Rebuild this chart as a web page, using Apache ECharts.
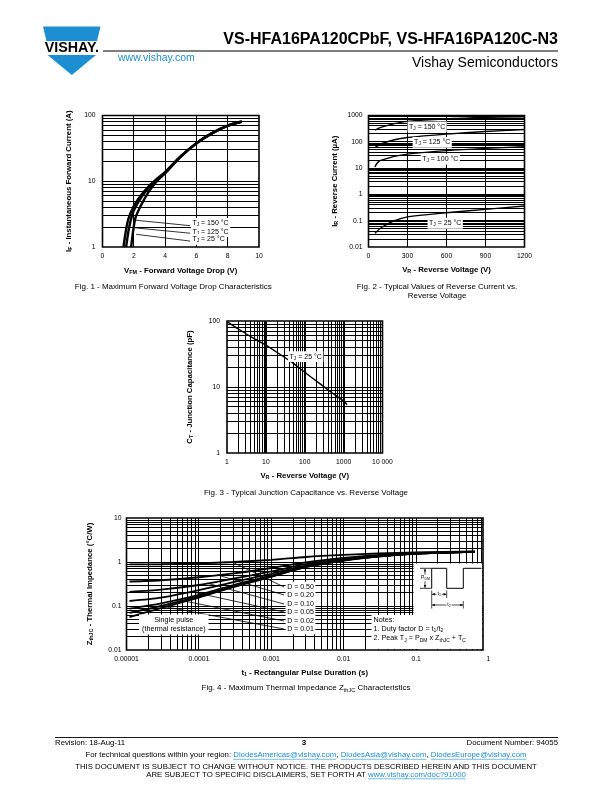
<!DOCTYPE html>
<html><head><meta charset="utf-8"><title>VS-HFA16PA120C</title>
<script src="https://cdn.jsdelivr.net/npm/echarts@6.0.0/dist/echarts.min.js"></script>
<style>html,body{margin:0;padding:0;background:#fff;}#chart{width:612px;height:792px;}</style>
</head><body><div id="chart"></div>
<script>
const FONT = '"Liberation Sans", Arial, Helvetica, sans-serif';
const BLUE = '#1c8fd3';

// ---------------- Fig. 1 data ----------------
const fig1V150 = [1.34, 1.5, 1.66, 2.0, 2.5, 3.0, 3.5, 4.0, 5.0, 6.0, 7.0, 8.0, 8.9];
const fig1I150 = [1, 1.8, 2.7, 4.2, 6.3, 8.6, 11, 13.8, 24, 38, 54, 70, 81];
const fig1V125 = [1.51, 1.66, 1.83, 2.0, 2.5, 3.0, 3.5, 4.0, 5.0, 6.0, 7.0, 8.0, 8.9];
const fig1I125 = [1, 1.75, 2.7, 3.6, 5.8, 8.2, 10.8, 13.5, 23.8, 38, 54, 70, 81];
const fig1V25 = [1.83, 1.95, 2.09, 2.3, 2.5, 3.0, 3.5, 4.0, 5.0, 6.0, 7.0, 8.0, 8.9];
const fig1I25 = [1, 1.7, 2.7, 3.6, 4.5, 7.2, 10.2, 13.2, 23.5, 37.5, 53.5, 69.5, 80];
const fig1XTicks = ['0', '2', '4', '6', '8', '10'];
const fig1YTicks = ['1', '10', '100'];
const fig1Temps = ['150 °C', '125 °C', '25 °C'];

// ---------------- Fig. 2 data ----------------
const fig2V = [50, 100, 200, 300, 600, 900, 1200];
const fig2I150 = [280, 360, 490, 600, 750, 850, 900];
const fig2I125 = [60, 85, 120, 145, 195, 245, 295];
const fig2V100 = [50, 60, 80, 100, 200, 300, 600, 900, 1200];
const fig2I100 = [11, 14, 18, 20, 28, 34, 46, 56, 65];
const fig2I25 = [0.033, 0.055, 0.1, 0.14, 0.2, 0.27, 0.36];
const fig2XTicks = ['0', '300', '600', '900', '1200'];
const fig2YTicks = ['0.01', '0.1', '1', '10', '100', '1000'];
const fig2Temps = ['150 °C', '125 °C', '100 °C', '25 °C'];

// ---------------- Fig. 3 data ----------------
const fig3V = [1, 2, 5, 10, 20, 50, 100, 200, 500, 1000, 1230];
const fig3C = [98, 75, 54, 43, 33, 23, 16.7, 12.3, 8.2, 6.1, 5.4];
const fig3XTicks = ['1', '10', '100', '1000', '10 000'];
const fig3YTicks = ['1', '10', '100'];

// ---------------- Fig. 4 data ----------------
const fig4T = [1.1e-5, 3e-5, 1e-4, 3e-4, 1e-3, 3e-3, 1e-2, 3e-2, 0.1, 0.65];
const fig4Single = [0.056, 0.09, 0.155, 0.27, 0.46, 0.76, 1.08, 1.33, 1.54, 1.7];
const fig4D001 = [0.07, 0.1, 0.165, 0.28, 0.47, 0.77, 1.09, 1.34, 1.55, 1.7];
const fig4D002 = [0.087, 0.115, 0.18, 0.3, 0.49, 0.79, 1.1, 1.35, 1.55, 1.7];
const fig4D005 = [0.13, 0.155, 0.23, 0.35, 0.54, 0.83, 1.13, 1.37, 1.56, 1.7];
const fig4D010 = [0.21, 0.235, 0.3, 0.42, 0.61, 0.89, 1.17, 1.4, 1.57, 1.71];
const fig4D020 = [0.36, 0.385, 0.45, 0.55, 0.73, 0.98, 1.24, 1.44, 1.6, 1.72];
const fig4D050 = [0.88, 0.89, 0.93, 1.0, 1.12, 1.3, 1.45, 1.56, 1.65, 1.74];
const fig4XTicks = ['0.00001', '0.0001', '0.001', '0.01', '0.1', '1'];
const fig4YTicks = ['0.01', '0.1', '1', '10'];
const fig4DLabels = ['D = 0.50', 'D = 0.20', 'D = 0.10', 'D = 0.05', 'D = 0.02', 'D = 0.01'];

// ---------------- annotation anchors (data space) ----------------
const ANNOT = {
  f1Label: { x: 5.65, y: [2.29, 1.71, 1.31] },
  f1Lead: [[[1.94, 2.58], [5.6, 2.11]], [[1.94, 1.97], [5.6, 1.62]], [[2.15, 1.56], [5.6, 1.23]]],
  f2Label: [[451, 370], [490, 95], [552, 22], [590, 0.08]],
  f3Label: [106, 28.9],
  f4Label: { x: 1.58e-3, y: [0.27, 0.178, 0.111, 0.073, 0.0457, 0.030] },
  f4LeadEndX: 1.5e-3,
  f4LeadStart: [[2.9e-4, 1.0], [1.8e-4, 0.51], [1.3e-4, 0.33], [8e-5, 0.21], [5e-5, 0.14], [3e-5, 0.1]],
  f4Single: [4.5e-5, 0.038]
};

// ---------------- helpers ----------------
const pairs = (xs, ys) => xs.map((x, i) => [x, ys[i]]);
const M19 = [1, 2, 3, 4, 5, 6, 7, 8, 9];
function logGrid(e0, e1, lo, hi) {
  const out = [];
  for (let e = e0; e < e1; e++) for (const m of M19) {
    const v = +(m * Math.pow(10, e)).toPrecision(4);
    if (v > lo * 1.0001 && v < hi * 0.9999) out.push(v);
  }
  return out;
}
const logFmt = (labels, minExp) => v => { const i = Math.round(Math.log10(v)) - minExp; return labels[i] !== undefined ? labels[i] : ''; };

const NAME_FS = 7.8, SUB_FS = 5.4;
const RB = {
  b: { fontSize: NAME_FS, fontWeight: 'bold', fontFamily: FONT, color: '#000' },
  s: { fontSize: SUB_FS, fontWeight: 'bold', fontFamily: FONT, color: '#000', padding: [4, 0, 0, 0] }
};
const subR = size => ({ s: { font: (size * 0.7).toFixed(1) + 'px ' + FONT, padding: [size * 0.5, 0, 0, 0] } });

// grid lines: drawn through the axes by a custom series, snapped to pixel centres
function gridSeries(i, xr, yr, vals, vertical, width) {
  return {
    type: 'custom', xAxisIndex: i, yAxisIndex: i, z: 1, silent: true, animation: false, clip: false,
    data: vals.map(v => vertical ? [v, yr[0]] : [xr[0], v]),
    renderItem: function (params, api) {
      const v = api.value(vertical ? 0 : 1);
      const a = api.coord(vertical ? [v, yr[0]] : [xr[0], v]);
      const b = api.coord(vertical ? [v, yr[1]] : [xr[1], v]);
      const off = Math.round(width) % 2 === 1 ? 0.5 : 0;
      let shape;
      if (vertical) { const x = Math.round(a[0] - off) + off; shape = { x1: x, y1: a[1], x2: x, y2: b[1] }; }
      else { const y = Math.round(a[1] - off) + off; shape = { x1: a[0], y1: y, x2: b[0], y2: y }; }
      return { type: 'line', shape: shape, style: { stroke: '#000', lineWidth: width } };
    }
  };
}
function curve(i, xs, ys, w, smooth) {
  return { type: 'line', xAxisIndex: i, yAxisIndex: i, data: pairs(xs, ys), showSymbol: false, symbol: 'none',
    smooth: smooth === undefined ? 0.3 : smooth, lineStyle: { color: '#000', width: w }, z: 6, silent: true, animation: false };
}
function segment(i, a, b, w) {
  return { type: 'line', xAxisIndex: i, yAxisIndex: i, data: [a, b], showSymbol: false, symbol: 'none',
    lineStyle: { color: '#000', width: w }, z: 5, silent: true, animation: false };
}
// text annotations positioned through the axes (custom series)
function notes(i, items, align, size, pad) {
  return {
    type: 'custom', xAxisIndex: i, yAxisIndex: i, z: 20, silent: true, animation: false, clip: false,
    data: items.map(it => it.v),
    renderItem: function (params, api) {
      const p = api.coord([api.value(0), api.value(1)]);
      const it = items[params.dataIndex];
      return {
        type: 'text', x: p[0], y: p[1], z2: 100,
        style: { text: it.t, fill: '#000', font: size + 'px ' + FONT, rich: subR(size),
          align: align, verticalAlign: 'middle', backgroundColor: '#fff', padding: pad || [1, 1.5], lineHeight: size + 1.8 }
      };
    }
  };
}
const tj = t => 'T{s|J} = ' + t;

function axisBase(gi, extra) {
  return Object.assign({
    gridIndex: gi, axisLine: { show: false }, axisTick: { show: false }, splitLine: { show: false },
    minorTick: { show: false }, minorSplitLine: { show: false },
    nameLocation: 'middle', nameTextStyle: { rich: RB }
  }, extra);
}
const lab = (fmt, margin) => ({ color: '#000', fontFamily: FONT, fontSize: 6.8, margin: margin || 6, formatter: fmt });

// ---------------- grids ----------------
const gridRects = [
  { left: 102.5, top: 115.5, width: 156.5, height: 131.5 },
  { left: 368.5, top: 115.5, width: 156, height: 131.5 },
  { left: 227, top: 321, width: 155.5, height: 132 },
  { left: 126.5, top: 518, width: 356.5, height: 132 },
  { left: 126.5, top: 518, width: 362, height: 132 }
];
const grid = gridRects.map((g, i) => Object.assign({
  show: i < 4, borderColor: '#000', borderWidth: 1.6, backgroundColor: 'rgba(0,0,0,0)',
  containLabel: false, outerBoundsMode: 'none'
}, g));

const xAxis = [
  axisBase(0, { type: 'value', min: 0, max: 10, interval: 2, name: '{b|V}{s|FM}{b| - Forward Voltage Drop (V)}', nameGap: 19,
    axisLabel: lab(v => fig1XTicks[Math.round(v / 2)]) }),
  axisBase(1, { type: 'value', min: 0, max: 1200, interval: 300, name: '{b|V}{s|R}{b| - Reverse Voltage (V)}', nameGap: 18,
    axisLabel: lab(v => fig2XTicks[Math.round(v / 300)]) }),
  axisBase(2, { type: 'log', logBase: 10, min: 1, max: 10000, name: '{b|V}{s|R}{b| - Reverse Voltage (V)}', nameGap: 18,
    axisLabel: lab(logFmt(fig3XTicks, 0)) }),
  axisBase(3, { type: 'log', logBase: 10, min: 1e-5, max: 0.84, name: '{b|t}{s|1}{b| - Rectangular Pulse Duration (s)}', nameGap: 18,
    axisLabel: { show: false } }),
  axisBase(4, { type: 'log', logBase: 10, min: 1e-5, max: 1, axisLabel: lab(logFmt(fig4XTicks, -5)) })
];
const yAxis = [
  axisBase(0, { type: 'log', logBase: 10, min: 1, max: 100, name: '{b|I}{s|F}{b| - Instantaneous Forward Current (A)}', nameGap: 29,
    axisLabel: lab(logFmt(fig1YTicks, 0), 7) }),
  axisBase(1, { type: 'log', logBase: 10, min: 0.01, max: 1000, name: '{b|I}{s|R}{b| - Reverse Current (µA)}', nameGap: 29,
    axisLabel: lab(logFmt(fig2YTicks, -2), 6) }),
  axisBase(2, { type: 'log', logBase: 10, min: 1, max: 100, name: '{b|C}{s|T}{b| - Junction Capacitance (pF)}', nameGap: 32.5,
    axisLabel: lab(logFmt(fig3YTicks, 0), 7) }),
  axisBase(3, { type: 'log', logBase: 10, min: 0.01, max: 10, name: '{b|Z}{s|thJC}{b| - Thermal Impedance (°C/W)}', nameGap: 32,
    axisLabel: lab(logFmt(fig4YTicks, -2), 5) }),
  { gridIndex: 4, type: 'value', show: false, min: 0, max: 1 }
];

// ---------------- series ----------------
const series = [];
// Fig 1
series.push(gridSeries(0, [0, 10], [1, 100], [2, 4, 6, 8], true, 1));
series.push(gridSeries(0, [0, 10], [1, 100], logGrid(0, 2, 1, 100), false, 1));
series.push(curve(0, fig1V150, fig1I150, 2.4));
series.push(curve(0, fig1V125, fig1I125, 2.4));
series.push(curve(0, fig1V25, fig1I25, 2.4));
ANNOT.f1Lead.forEach(l => series.push(segment(0, l[0], l[1], 0.8)));
series.push(notes(0, fig1Temps.map((t, k) => ({ v: [ANNOT.f1Label.x, ANNOT.f1Label.y[k]], t: tj(t) })), 'left', 7));
// Fig 2
series.push(gridSeries(1, [0, 1200], [0.01, 1000], [300, 600, 900], true, 1));
series.push(gridSeries(1, [0, 1200], [0.01, 1000], logGrid(-2, 3, 0.01, 1000), false, 1));
series.push(curve(1, fig2V, fig2I150, 1.4));
series.push(curve(1, fig2V, fig2I125, 1.4));
series.push(curve(1, fig2V100, fig2I100, 1.4));
series.push(curve(1, fig2V, fig2I25, 1.4));
series.push(notes(1, fig2Temps.map((t, k) => ({ v: ANNOT.f2Label[k], t: tj(t) })), 'center', 7));
// Fig 3
const fig3Dec = [10, 100, 1000];
series.push(gridSeries(2, [1, 10000], [1, 100], logGrid(0, 4, 1, 10000).filter(v => fig3Dec.indexOf(v) < 0), true, 1));
series.push(gridSeries(2, [1, 10000], [1, 100], fig3Dec, true, 2));
series.push(gridSeries(2, [1, 10000], [1, 100], logGrid(0, 2, 1, 100), false, 1));
series.push(curve(2, fig3V, fig3C, 1.4, 0.2));
series.push(notes(2, [{ v: ANNOT.f3Label, t: tj('25 °C') }], 'center', 7));
// Fig 4
series.push(gridSeries(3, [1e-5, 0.84], [0.01, 10], logGrid(-5, 0, 1e-5, 0.84), true, 1));
series.push(gridSeries(3, [1e-5, 0.84], [0.01, 10], logGrid(-2, 1, 0.01, 10), false, 1));
[fig4Single, fig4D001, fig4D002, fig4D005, fig4D010, fig4D020, fig4D050].forEach(arr => series.push(curve(3, fig4T, arr, 1.8, 0.25)));
fig4DLabels.forEach((t, k) => series.push(segment(3, ANNOT.f4LeadStart[k], [ANNOT.f4LeadEndX, ANNOT.f4Label.y[k]], 0.8)));
series.push(notes(3, fig4DLabels.map((t, k) => ({ v: [ANNOT.f4Label.x, ANNOT.f4Label.y[k]], t: t })), 'left', 7));
series.push(notes(3, [{ v: ANNOT.f4Single, t: 'Single pulse\n(thermal resistance)' }], 'center', 7.2, [1, 3]));

// ---------------- graphics ----------------
const g = [];
function T(x, y, str, o) {
  o = o || {};
  const font = (o.bold ? 'bold ' : '') + (o.size || 7) + 'px ' + FONT;
  const st = { text: str, fill: o.fill || '#000', font: font, align: o.align || 'left', verticalAlign: 'middle',
    textAlign: o.align || 'left', textVerticalAlign: 'middle' };
  if (o.rich) st.rich = o.rich;
  if (o.bg) { st.backgroundColor = o.bg; st.padding = o.pad || [0, 1]; }
  return { type: 'text', x: x, y: y, z: o.z || 100, silent: true, style: st };
}
function L(x1, y1, x2, y2, w, c, z) {
  return { type: 'line', z: z || 100, silent: true, shape: { x1: x1, y1: y1, x2: x2, y2: y2 }, style: { stroke: c || '#000', lineWidth: w || 1 } };
}
function P(points, fill, z) { return { type: 'polygon', z: z || 100, silent: true, shape: { points: points }, style: { fill: fill || '#000' } }; }

// header
g.push(P([[43, 26.5], [100.5, 26.5], [97, 41], [46.5, 41]], BLUE));
g.push(T(71.8, 48, 'VISHAY.', { bold: true, size: 14.3, align: 'center' }));
g.push(P([[47.5, 55], [96, 55], [71.8, 75]], BLUE));
g.push(T(558, 40, 'VS-HFA16PA120CPbF, VS-HFA16PA120C-N3', { bold: true, size: 16, align: 'right' }));
g.push(L(103, 51, 558, 51, 1));
g.push(T(118, 58.5, 'www.vishay.com', { size: 10.5, fill: BLUE }));
g.push(T(558, 63, 'Vishay Semiconductors', { size: 14, align: 'right' }));

// captions
const CAP = 8;
g.push(T(173.3, 286.5, 'Fig. 1 - Maximum Forward Voltage Drop Characteristics', { size: CAP, align: 'center' }));
g.push(T(437, 287, 'Fig. 2 - Typical Values of Reverse Current vs.', { size: CAP, align: 'center' }));
g.push(T(437, 296, 'Reverse Voltage', { size: CAP, align: 'center' }));
g.push(T(306, 492.7, 'Fig. 3 - Typical Junction Capacitance vs. Reverse Voltage', { size: CAP, align: 'center' }));
g.push(T(306, 688, 'Fig. 4 - Maximum Thermal Impedance Z{s|thJC} Characteristics', { size: CAP, align: 'center', rich: subR(CAP) }));

// Fig 4 inset (schematic)
g.push({ type: 'rect', z: 50, silent: true, shape: { x: 413.5, y: 563.5, width: 68.5, height: 52 }, style: { fill: '#fff' } });
g.push({ type: 'rect', z: 50, silent: true, shape: { x: 371.5, y: 615, width: 110.5, height: 34 }, style: { fill: '#fff' } });
g.push({ type: 'polyline', z: 51, silent: true, shape: { points: [[431.7, 588.3], [431.7, 568.3], [446.7, 568.3], [446.7, 588.3], [463.3, 588.3], [463.3, 568.3], [481.5, 568.3]] },
  style: { stroke: '#000', lineWidth: 1, fill: null } });
g.push(L(420, 568.3, 431.7, 568.3, 0.8, '#000', 51));
g.push(L(420, 588.3, 431.7, 588.3, 0.8, '#000', 51));
g.push(L(425, 569, 425, 587.6, 0.7, '#000', 51));
g.push(P([[425, 568.6], [423.8, 571.6], [426.2, 571.6]], '#000', 51));
g.push(P([[425, 588], [423.8, 585], [426.2, 585]], '#000', 51));
g.push(T(425.5, 578, 'P{s|DM}', { size: 5, align: 'center', bg: '#fff', rich: subR(5), z: 52 }));
// t1
g.push(L(431.7, 590.5, 431.7, 608.5, 0.7, '#000', 51));
g.push(L(446.7, 590.5, 446.7, 598, 0.7, '#000', 51));
g.push(L(432, 594.3, 446.4, 594.3, 0.7, '#000', 51));
g.push(P([[432, 594.3], [434.8, 593.1], [434.8, 595.5]], '#000', 51));
g.push(P([[446.4, 594.3], [443.6, 593.1], [443.6, 595.5]], '#000', 51));
g.push(T(439.2, 594, 't{s|1}', { size: 5, align: 'center', bg: '#fff', rich: subR(5), z: 52 }));
// t2
g.push(L(463.3, 601, 463.3, 608.5, 0.7, '#000', 51));
g.push(L(432, 605, 463, 605, 0.7, '#000', 51));
g.push(P([[432, 605], [434.8, 603.8], [434.8, 606.2]], '#000', 51));
g.push(P([[463, 605], [460.2, 603.8], [460.2, 606.2]], '#000', 51));
g.push(T(449, 604.7, 't{s|2}', { size: 5, align: 'center', bg: '#fff', rich: subR(5), z: 52 }));
// notes
const NF = 7.2;
g.push(T(373.5, 620, 'Notes:', { size: NF, z: 52 }));
g.push(T(373.5, 629.2, '1. Duty factor D = t{s|1}/t{s|2}', { size: NF, z: 52, rich: subR(NF) }));
g.push(T(373.5, 638.5, '2. Peak T{s|J} = P{s|DM} x Z{s|thJC} + T{s|C}', { size: NF, z: 52, rich: subR(NF) }));

// footer
const FF = 7.8;
const mctx = document.createElement('canvas').getContext('2d');
function segLine(segs, cx, y, size) {
  mctx.font = size + 'px ' + FONT;
  const total = segs.reduce((s, sg) => s + mctx.measureText(sg.t).width, 0);
  let x = cx - total / 2;
  segs.forEach(sg => {
    const w = mctx.measureText(sg.t).width;
    g.push(T(x, y, sg.t, { size: size, fill: sg.link ? BLUE : '#000' }));
    if (sg.link) g.push(L(x, y + size * 0.55, x + w, y + size * 0.55, 0.6, BLUE));
    x += w;
  });
}
g.push(L(55, 737.5, 558, 737.5, 0.9));
g.push(T(55, 742.7, 'Revision: 18-Aug-11', { size: FF }));
g.push(T(304, 742.7, '3', { size: 8, bold: true, align: 'center' }));
g.push(T(558, 742.7, 'Document Number: 94055', { size: FF, align: 'right' }));
segLine([{ t: 'For technical questions within your region: ' }, { t: 'DiodesAmericas@vishay.com', link: true }, { t: ', ' },
  { t: 'DiodesAsia@vishay.com', link: true }, { t: ', ' }, { t: 'DiodesEurope@vishay.com', link: true }], 306, 755, FF);
g.push(T(306, 766.8, 'THIS DOCUMENT IS SUBJECT TO CHANGE WITHOUT NOTICE. THE PRODUCTS DESCRIBED HEREIN AND THIS DOCUMENT', { size: FF, align: 'center' }));
segLine([{ t: 'ARE SUBJECT TO SPECIFIC DISCLAIMERS, SET FORTH AT ' }, { t: 'www.vishay.com/doc?91000', link: true }], 306, 774.5, FF);

const chart = echarts.init(document.getElementById('chart'), null, { renderer: 'canvas', devicePixelRatio: 1 });
chart.setOption({
  animation: false,
  backgroundColor: '#fff',
  textStyle: { fontFamily: FONT },
  grid: grid, xAxis: xAxis, yAxis: yAxis, series: series,
  graphic: { elements: g }
});
</script></body></html>
